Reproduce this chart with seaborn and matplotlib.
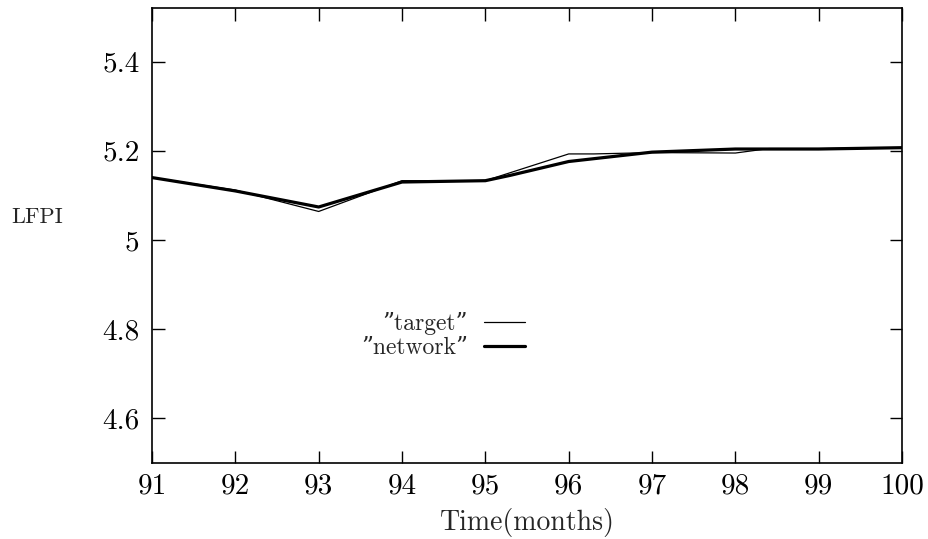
import numpy as np
import pandas as pd
import matplotlib
matplotlib.use("Agg")
import matplotlib.pyplot as plt
import seaborn as sns

# values
target_t = [91, 92, 93, 94, 95, 96, 96.3, 97, 98, 98.4, 99, 100]
target_v = [5.140, 5.112, 5.064, 5.133, 5.133, 5.193, 5.193, 5.196, 5.195, 5.205, 5.205, 5.207]
network_t = [91, 92, 93, 94, 95, 95.3, 96, 97, 98, 99, 100]
network_v = [5.140, 5.110, 5.074, 5.130, 5.133, 5.145, 5.176, 5.197, 5.204, 5.204, 5.207]
xticks = list(range(91, 101))
yticks = [4.6, 4.8, 5.0, 5.2, 5.4]
ytick_labels = ["4.6", "4.8", "5", "5.2", "5.4"]

sns.set_style("ticks")
plt.rcParams["font.family"] = ["cmr10", "DejaVu Serif"]
plt.rcParams["axes.formatter.use_mathtext"] = True

df_t = pd.DataFrame({"t": target_t, "v": target_v})
df_n = pd.DataFrame({"t": network_t, "v": network_v})

fig = plt.figure(figsize=(9.29, 5.39), dpi=100)
ax = fig.add_axes([0.1636, 0.141, 0.8074, 0.844])

sns.lineplot(data=df_t, x="t", y="v", ax=ax, color="black", linewidth=0.9,
             label="\u201dtarget\u201d", estimator=None, sort=False)
sns.lineplot(data=df_n, x="t", y="v", ax=ax, color="black", linewidth=2.3,
             label="\u201dnetwork\u201d", estimator=None, sort=False)

ax.set_xlim(91, 100)
ax.set_ylim(4.5, 5.52)
ax.set_xticks(xticks)
ax.set_xticklabels([str(x) for x in xticks])
ax.set_yticks(yticks)
ax.set_yticklabels(ytick_labels)
ax.tick_params(direction="in", top=True, right=True, length=9, width=1.0,
               labelsize=21, colors="black")
ax.tick_params(axis="y", pad=9)
ax.tick_params(axis="x", pad=7)
for s in ax.spines.values():
    s.set_linewidth(1.2)
    s.set_color("black")

ax.set_xlabel("Time(months)", fontsize=20)
ax.xaxis.set_label_coords(0.5, -0.1)
ax.set_ylabel("LFPI", fontsize=16, rotation=0)
ax.yaxis.set_label_coords(-0.153, 0.518)

leg = ax.legend(loc="center right", bbox_to_anchor=(0.525, 0.28), frameon=False,
                markerfirst=False, fontsize=17, handlelength=1.7,
                handletextpad=0.7, labelspacing=0.05)

fig.savefig("out.png", dpi=100)
